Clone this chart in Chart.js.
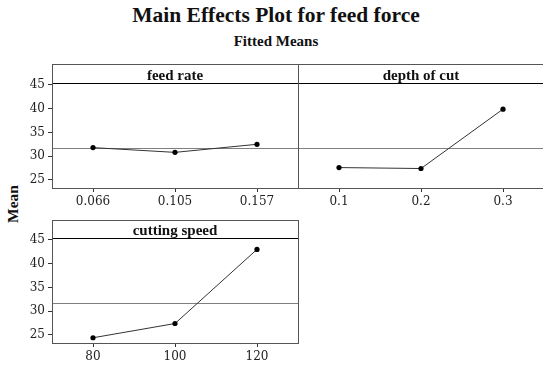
<!DOCTYPE html>
<html>
<head>
<meta charset="utf-8">
<script src="https://cdn.jsdelivr.net/npm/chart.js@4.4.1/dist/chart.umd.min.js"></script>
<style>
  html, body { margin: 0; padding: 0; background: #fff; overflow: hidden; }
  #wrap { position: relative; width: 543px; height: 367px; overflow: hidden; background: #fff; }
  canvas { position: absolute; left: 0; top: 0; }
  .t { position: absolute; font-family: "Liberation Serif", "Times New Roman", serif; font-weight: bold; color: #111; white-space: nowrap; }
</style>
</head>
<body>
<div id="wrap">
  <div class="t" id="title" style="left:0;width:552px;text-align:center;top:3px;font-size:21.5px;line-height:24px;">Main Effects Plot for feed force</div>
  <div class="t" id="sub" style="left:0;width:552px;text-align:center;top:33px;font-size:15px;line-height:16px;">Fitted Means</div>
  <div class="t" id="ylab" style="left:13px;top:204px;font-size:15.5px;line-height:16px;transform:translate(-50%,-50%) rotate(-90deg);">Mean</div>
  <canvas id="c1" width="560" height="367"></canvas>
  <canvas id="c2" width="560" height="367"></canvas>
  <canvas id="c3" width="560" height="367"></canvas>
</div>
<script>
// ---- data ----
const feedRateLevels = ['0.066', '0.105', '0.157'];
const feedRateMeans = [31.8, 30.8, 32.5];
const depthLevels = ['0.1', '0.2', '0.3'];
const depthMeans = [27.6, 27.4, 39.9];
const speedLevels = ['80', '100', '120'];
const speedMeans = [24.4, 27.4, 43.0];
const grandMean = 31.65;
const meanTicks = [25, 30, 35, 40, 45];
const panelTitles = ['feed rate', 'depth of cut', 'cutting speed'];

const W = 560, H = 367;
const Y_MIN = 23.3, Y_MAX = 45.4;

const panelPlugin = {
  id: 'panel',
  beforeDatasetsDraw(chart, args, opts) {
    const ctx = chart.ctx, a = chart.chartArea, y = chart.scales.y;
    const ym = Math.round(y.getPixelForValue(grandMean)) + 0.5;
    ctx.save();
    ctx.strokeStyle = '#7f7f7f';
    ctx.lineWidth = 1;
    ctx.beginPath();
    ctx.moveTo(a.left, ym);
    ctx.lineTo(a.right, ym);
    ctx.stroke();
    ctx.restore();
  },
  afterDraw(chart, args, opts) {
    const ctx = chart.ctx, a = chart.chartArea;
    const top = opts.top;
    ctx.save();
    ctx.strokeStyle = '#000';
    ctx.lineWidth = 1;
    ctx.beginPath();
    ctx.moveTo(a.left, a.top + 0.5);
    ctx.lineTo(a.right, a.top + 0.5);
    ctx.stroke();
    ctx.strokeStyle = '#555';
    ctx.strokeRect(a.left + 0.5, top + 0.5, a.right - a.left, a.bottom - top);
    ctx.fillStyle = '#111';
    ctx.font = 'bold 15px "Liberation Serif", "Times New Roman", serif';
    ctx.textAlign = 'center';
    ctx.textBaseline = 'alphabetic';
    ctx.fillText(opts.title, (a.left + a.right) / 2, a.top - 3);
    ctx.restore();
  }
};

function makePanel(id, levels, means, title, box, showY) {
  const tickFont = { family: '"DejaVu Serif", serif', size: 12 };
  return new Chart(document.getElementById(id), {
    type: 'line',
    data: {
      labels: levels,
      datasets: [{
        data: means,
        borderColor: '#333',
        borderWidth: 1,
        pointRadius: 2.6,
        pointBackgroundColor: '#000',
        pointBorderColor: '#000',
        pointBorderWidth: 0,
        tension: 0,
        fill: false
      }]
    },
    options: {
      responsive: false,
      animation: false,
      events: [],
      layout: { padding: { left: 0, right: W - box.right, top: box.strip, bottom: 0 } },
      plugins: {
        legend: { display: false },
        tooltip: { enabled: false },
        title: { display: false },
        panel: { title: title, top: box.top }
      },
      scales: {
        x: {
          type: 'category',
          offset: true,
          afterFit(s) { s.height = H - box.bottom; },
          grid: { display: true, drawOnChartArea: false, drawTicks: true, tickLength: 4, color: '#333' },
          border: { display: false },
          ticks: { color: '#222', font: tickFont, padding: 3, maxRotation: 0, autoSkip: false }
        },
        y: {
          type: 'linear',
          min: Y_MIN,
          max: Y_MAX,
          afterFit(s) { s.width = box.left; },
          afterBuildTicks(s) { s.ticks = meanTicks.map(v => ({ value: v })); },
          grid: { display: showY, drawOnChartArea: false, drawTicks: true, tickLength: 4, color: '#333' },
          border: { display: false },
          ticks: { display: showY, color: '#222', font: tickFont, padding: 3 }
        }
      }
    },
    plugins: [panelPlugin]
  });
}

makePanel('c1', feedRateLevels, feedRateMeans, panelTitles[0], { left: 52, right: 298, top: 64, strip: 83, bottom: 188 }, true);
makePanel('c2', depthLevels, depthMeans, panelTitles[1], { left: 298, right: 544, top: 64, strip: 83, bottom: 188 }, false);
makePanel('c3', speedLevels, speedMeans, panelTitles[2], { left: 52, right: 298, top: 220, strip: 238, bottom: 343 }, true);
</script>
</body>
</html>
